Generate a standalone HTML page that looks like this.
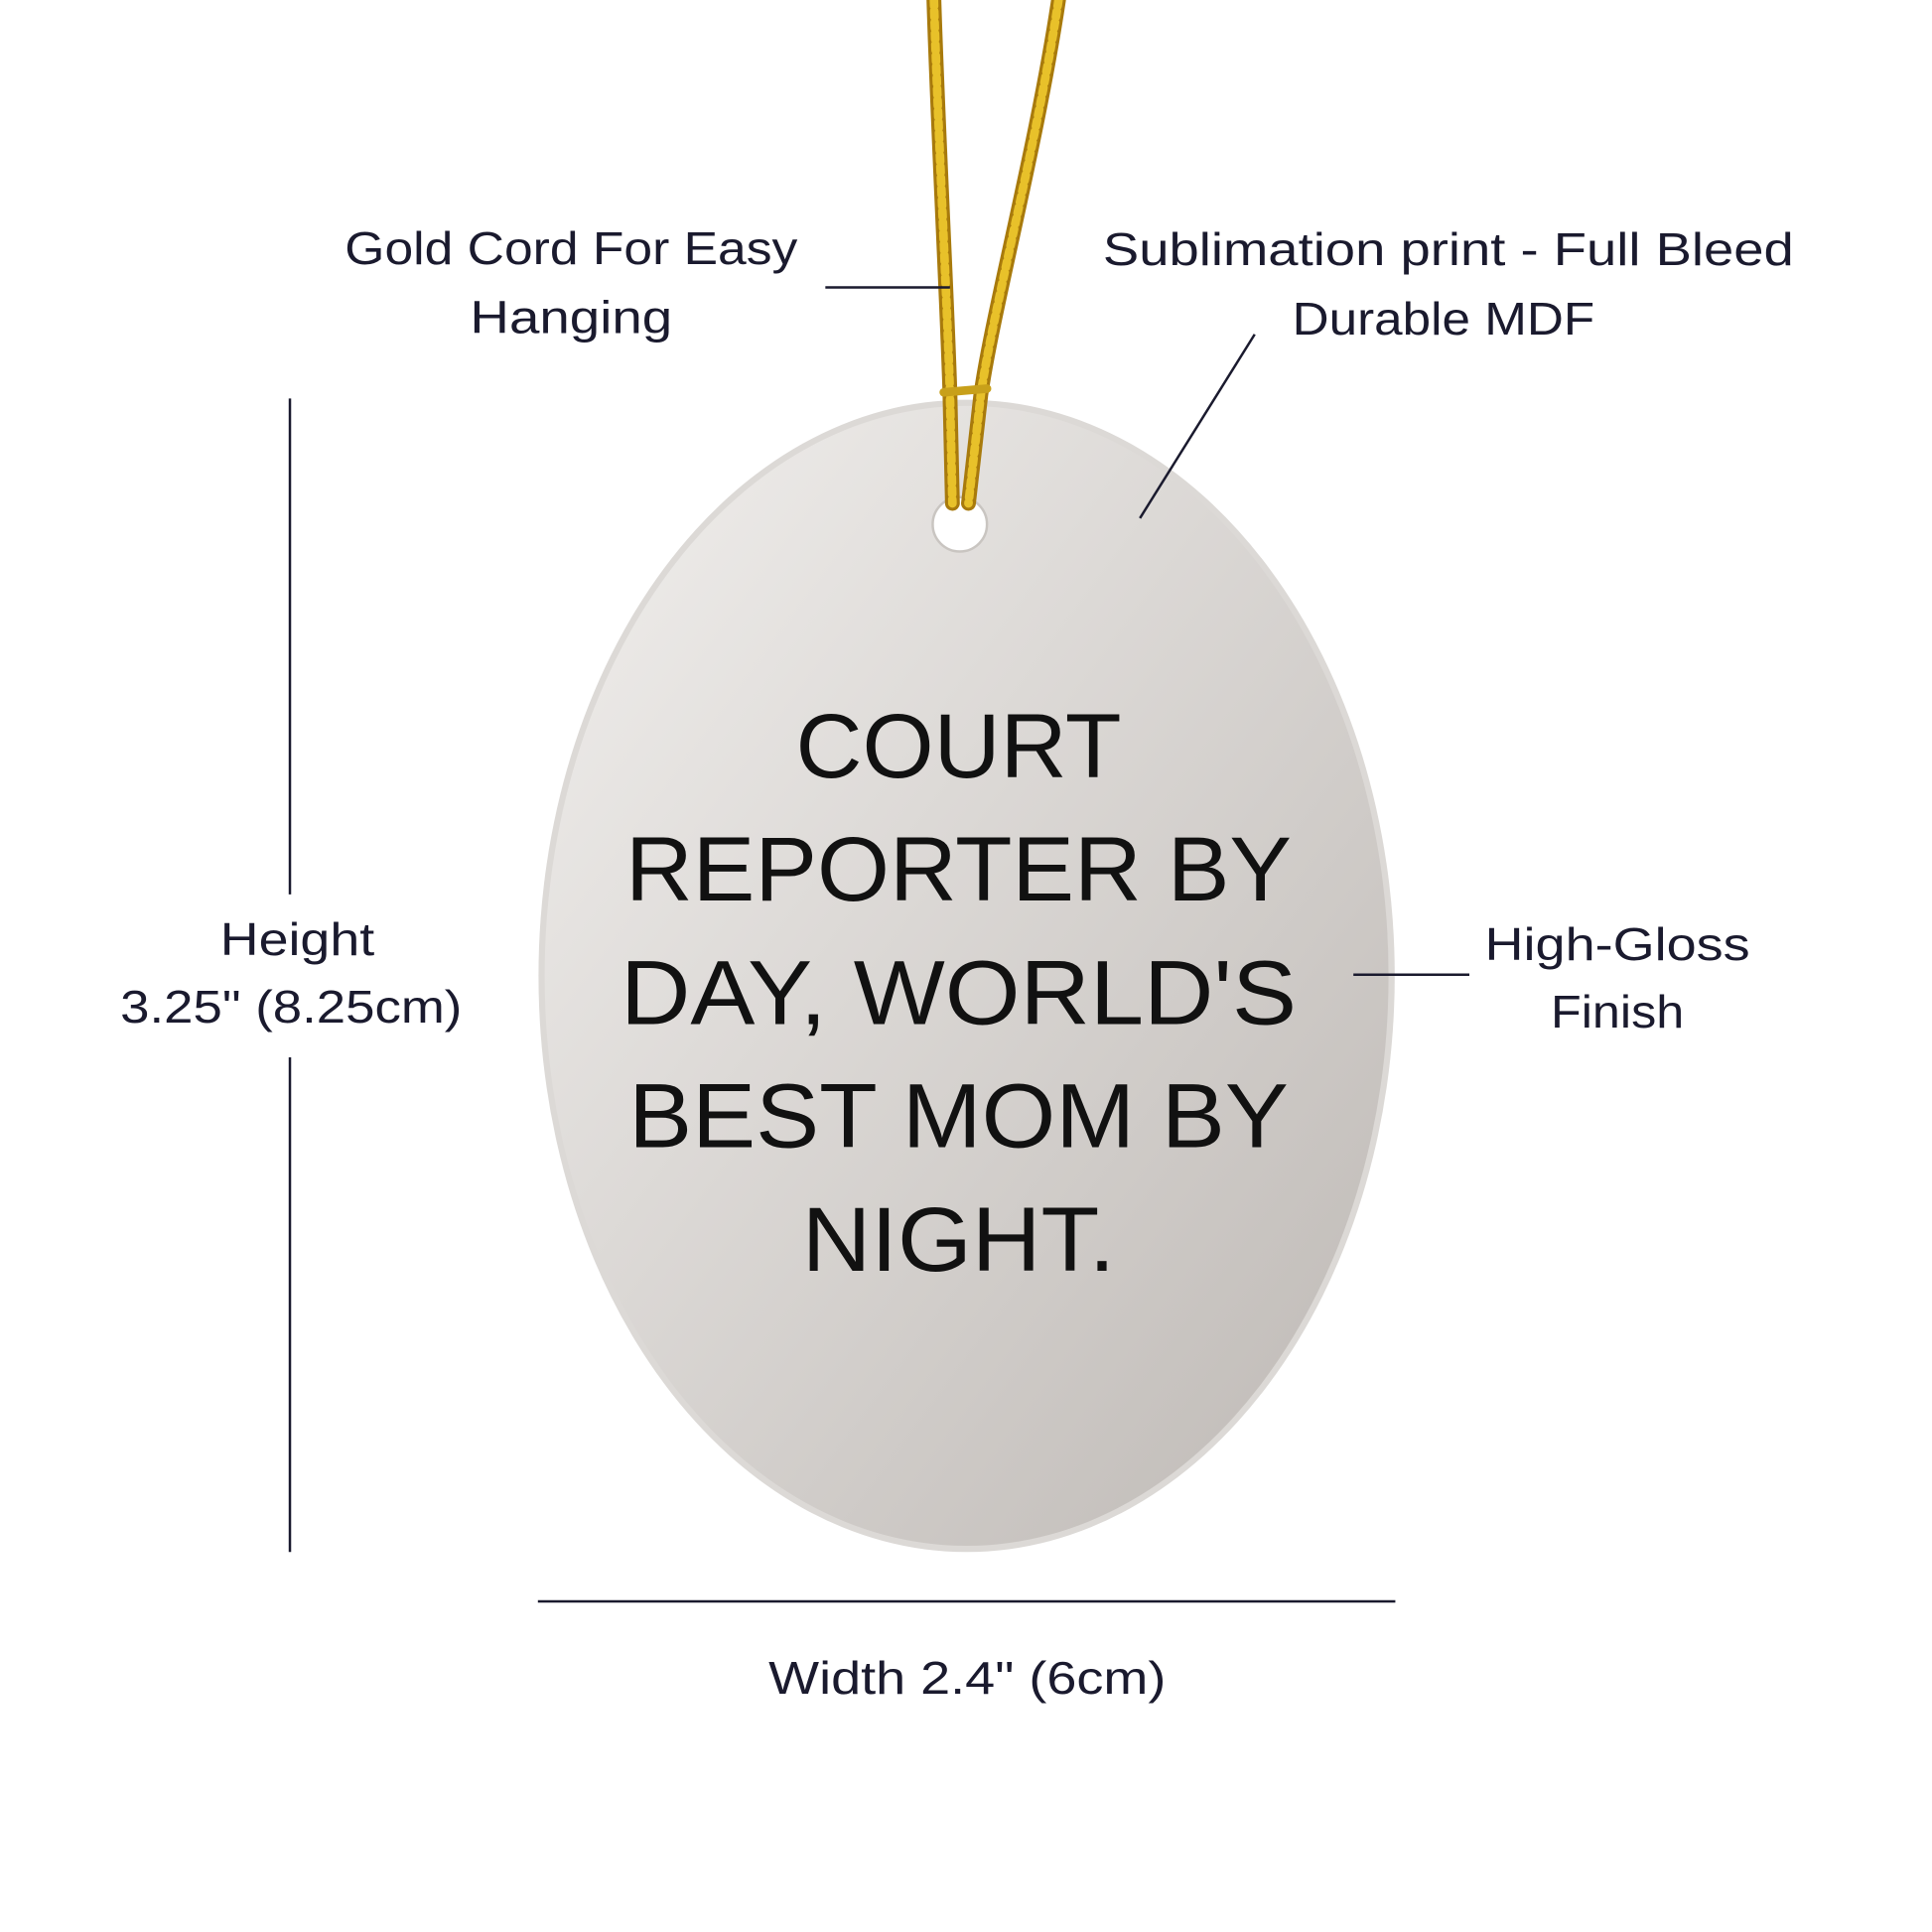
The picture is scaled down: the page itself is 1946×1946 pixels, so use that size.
<!DOCTYPE html>
<html><head><style>html,body{margin:0;padding:0;background:#fff}svg{display:block}</style></head>
<body>
<svg width="1946" height="1946" viewBox="0 0 1566 1566" xmlns="http://www.w3.org/2000/svg">
<defs>
<linearGradient id="g" x1="0" y1="0" x2="1" y2="1">
<stop offset="0" stop-color="#f2f0ee"/><stop offset="1" stop-color="#bdb8b4"/>
</linearGradient>
</defs>
<ellipse cx="783.5" cy="791" rx="347" ry="467" fill="#dcd9d6"/>
<ellipse cx="783.5" cy="791" rx="342" ry="462" fill="url(#g)"/>
<circle cx="778" cy="425" r="22" fill="#fff" stroke="#c9c5c1" stroke-width="2"/>
<g fill="none" stroke-linecap="round">
<path d="M757 0 C760 100 768 250 770 320 L772 408" stroke="#a87a0c" stroke-width="12"/>
<path d="M858 0 C840 120 805 250 795 320 L785 408" stroke="#a87a0c" stroke-width="12"/>
<path d="M757 0 C760 100 768 250 770 320 L772 408" stroke="#e8c12a" stroke-width="7" stroke-dasharray="5 4"/>
<path d="M858 0 C840 120 805 250 795 320 L785 408" stroke="#e8c12a" stroke-width="7" stroke-dasharray="5 4"/>
<path d="M765 318 L800 315" stroke="#c8a01a" stroke-width="7"/>
</g>
<g stroke="#1a1a2e" stroke-width="2">
<line x1="235" y1="323" x2="235" y2="725"/>
<line x1="235" y1="857" x2="235" y2="1258"/>
<line x1="436" y1="1298" x2="1131" y2="1298"/>
<line x1="669" y1="233" x2="770" y2="233"/>
<line x1="1097" y1="790" x2="1191" y2="790"/>
<line x1="1017" y1="271" x2="924" y2="420"/>
</g>
<g font-family="Liberation Sans, sans-serif" fill="#1a1a2e" font-size="37" text-anchor="middle">
<text x="463" y="214" textLength="367" lengthAdjust="spacingAndGlyphs">Gold Cord For Easy</text>
<text x="463" y="270" textLength="164" lengthAdjust="spacingAndGlyphs">Hanging</text>
<text x="1174" y="215" textLength="560" lengthAdjust="spacingAndGlyphs">Sublimation print - Full Bleed</text>
<text x="1170" y="271" textLength="245" lengthAdjust="spacingAndGlyphs">Durable MDF</text>
<text x="241" y="774" textLength="125" lengthAdjust="spacingAndGlyphs">Height</text>
<text x="236" y="829" textLength="277" lengthAdjust="spacingAndGlyphs">3.25" (8.25cm)</text>
<text x="1311" y="778" textLength="215" lengthAdjust="spacingAndGlyphs">High-Gloss</text>
<text x="1311" y="833" textLength="108" lengthAdjust="spacingAndGlyphs">Finish</text>
<text x="784" y="1373" textLength="322" lengthAdjust="spacingAndGlyphs">Width 2.4" (6cm)</text>
</g>
<g font-family="Liberation Sans, sans-serif" fill="#111" font-size="74" text-anchor="middle">
<text x="777" y="630" textLength="264" lengthAdjust="spacingAndGlyphs">COURT</text>
<text x="777" y="730" textLength="540" lengthAdjust="spacingAndGlyphs">REPORTER BY</text>
<text x="777" y="830" textLength="548" lengthAdjust="spacingAndGlyphs">DAY, WORLD'S</text>
<text x="777" y="930" textLength="535" lengthAdjust="spacingAndGlyphs">BEST MOM BY</text>
<text x="777" y="1030" textLength="254" lengthAdjust="spacingAndGlyphs">NIGHT.</text>
</g>
</svg>
</body></html>
